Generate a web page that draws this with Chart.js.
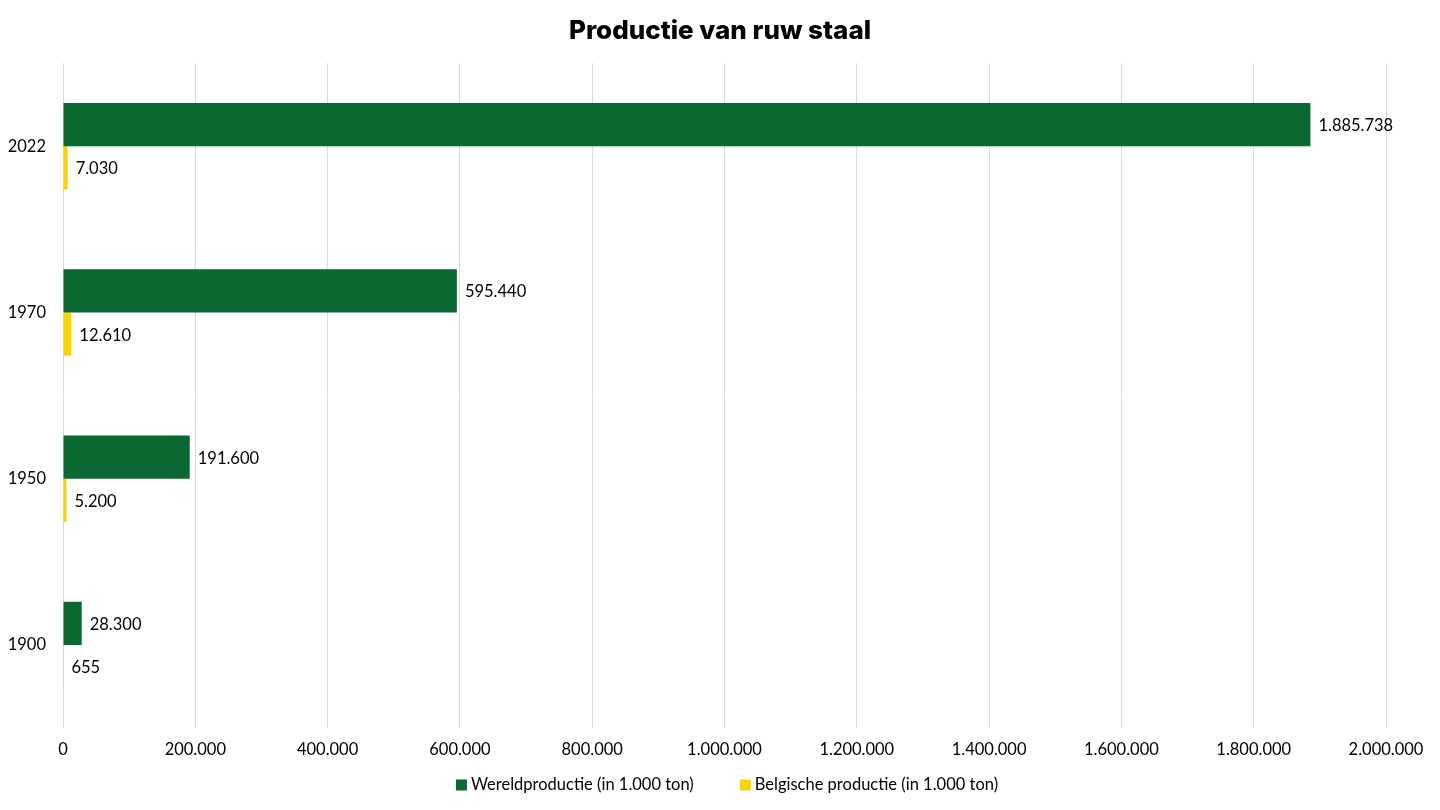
<!DOCTYPE html>
<html><head><meta charset="utf-8">
<script src="https://cdn.jsdelivr.net/npm/chart.js@4.4.1/dist/chart.umd.min.js"></script>
<style>html,body{margin:0;padding:0;background:#fff}#wrap{width:1440px;height:810px}</style>
</head><body><div id="wrap"><canvas id="c" width="1440" height="810"></canvas></div>
<script>
const categories = ['2022', '1970', '1950', '1900'];
const worldProduction = [1885738, 595440, 191600, 28300];
const belgianProduction = [7030, 12610, 5200, 655];
const seriesNames = ['Wereldproductie (in 1.000 ton)', 'Belgische productie (in 1.000 ton)'];
const seriesColors = ['#0b6833', '#fad400'];
const xTicks = [0, 200000, 400000, 600000, 800000, 1000000, 1200000, 1400000, 1600000, 1800000, 2000000];

function fmt(v) {
  return String(Math.round(v)).replace(/\B(?=(\d{3})+(?!\d))/g, '.');
}
const FONT = 'Lato, "Open Sans", sans-serif';

const labelPlugin = {
  id: 'barLabels',
  afterDatasetsDraw(chart) {
    const ctx = chart.ctx;
    ctx.save();
    ctx.font = '16.5px ' + FONT;
    ctx.fillStyle = '#000';
    ctx.textBaseline = 'middle';
    ctx.textAlign = 'left';
    chart.data.datasets.forEach((ds, i) => {
      chart.getDatasetMeta(i).data.forEach((bar, j) => {
        ctx.fillText(fmt(ds.data[j]), bar.x + 8, bar.y + 1);
      });
    });
    ctx.restore();
  },
  afterDraw(chart) {
    const ctx = chart.ctx;
    ctx.save();
    ctx.font = '16.5px ' + FONT;
    ctx.textBaseline = 'middle';
    ctx.textAlign = 'left';
    const box = 11, gapBoxText = 4, gapItems = 46;
    const widths = chart.data.datasets.map(ds => box + gapBoxText + ctx.measureText(ds.label).width);
    const total = widths.reduce((a, b) => a + b, 0) + gapItems * (widths.length - 1);
    let x = 727 - total / 2;
    const y = 785;
    chart.data.datasets.forEach((ds, i) => {
      ctx.fillStyle = ds.backgroundColor;
      ctx.fillRect(x, y - box / 2, box, box);
      ctx.fillStyle = '#000';
      ctx.fillText(ds.label, x + box + gapBoxText, y);
      x += widths[i] + gapItems;
    });
    ctx.restore();
  }
};

new Chart(document.getElementById('c'), {
  type: 'bar',
  data: {
    labels: categories,
    datasets: [
      { label: seriesNames[0], data: worldProduction, backgroundColor: seriesColors[0], borderWidth: 0 },
      { label: seriesNames[1], data: belgianProduction, backgroundColor: seriesColors[1], borderWidth: 0 }
    ]
  },
  options: {
    indexAxis: 'y',
    responsive: false,
    animation: false,
    layout: { padding: { left: 0, right: 0, top: 10, bottom: 38 } },
    datasets: { bar: { barPercentage: 1, categoryPercentage: 0.52 } },
    plugins: {
      title: { display: true, text: 'Productie van ruw staal', color: '#000',
        font: { family: 'Inter, Roboto, sans-serif', size: 26, weight: '800' }, padding: { top: 6, bottom: 16 } },
      legend: { display: false },
      tooltip: { enabled: false }
    },
    scales: {
      x: {
        min: 0, max: 2000000,
        afterBuildTicks: s => { s.ticks = xTicks.map(v => ({ value: v })); },
        afterFit: s => { s.paddingRight = 54; },
        ticks: { color: '#000', font: { family: FONT, size: 16.5 }, padding: 12, callback: v => fmt(v), maxRotation: 0 },
        grid: { color: '#d9d9d9', drawTicks: false },
        border: { display: false }
      },
      y: {
        afterFit: s => { s.width = 63; },
        ticks: { color: '#000', font: { family: FONT, size: 16.5 }, padding: 17 },
        grid: { display: false, drawTicks: false },
        border: { display: false }
      }
    }
  },
  plugins: [labelPlugin]
});
</script></body></html>
